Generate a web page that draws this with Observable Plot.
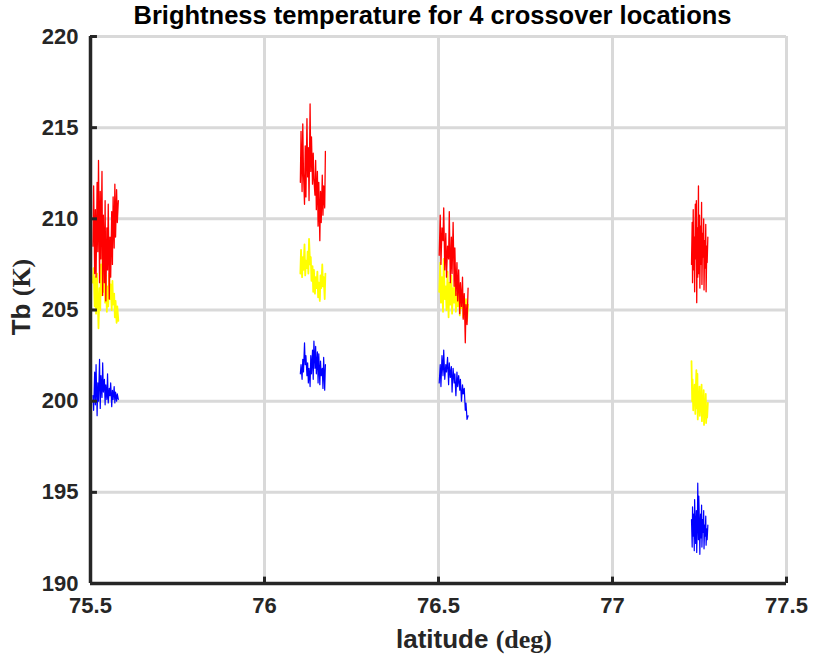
<!DOCTYPE html>
<html><head><meta charset="utf-8">
<script src="https://cdn.jsdelivr.net/npm/d3@7"></script>
<script src="https://cdn.jsdelivr.net/npm/@observablehq/plot@0.6"></script>
<style>
body{margin:0;background:#fff;}
#wrap{position:relative;width:815px;height:664px;}
#title{position:absolute;left:50px;width:765px;top:1px;text-align:center;font-family:"Liberation Sans",Arial,sans-serif;font-weight:bold;font-size:25.5px;color:#000;}
</style></head>
<body><div id="wrap"><div id="title">Brightness temperature for 4 crossover locations</div></div>
<script>
const xTicks=[75.5,76,76.5,77,77.5];
const yTicks=[190,195,200,205,210,215,220];

const lat1=[75.507,75.509,75.512,75.514,75.516,75.519,75.521,75.523,75.526,75.528,75.530,75.533,75.535,75.537,75.540,75.542,75.544,75.547,75.549,75.551,75.554,75.556,75.558,75.561,75.563,75.565,75.568,75.570,75.572,75.575,75.577,75.580];
const lat2=[76.103,76.105,76.108,76.110,76.112,76.115,76.117,76.119,76.122,76.124,76.126,76.128,76.131,76.133,76.135,76.138,76.140,76.142,76.145,76.147,76.149,76.152,76.154,76.156,76.159,76.161,76.163,76.166,76.168,76.170,76.173,76.175];
const lat3=[76.502,76.505,76.507,76.510,76.513,76.515,76.518,76.521,76.523,76.526,76.529,76.531,76.534,76.537,76.539,76.542,76.545,76.547,76.550,76.553,76.555,76.558,76.561,76.563,76.566,76.569,76.571,76.574,76.577,76.579,76.582,76.585];
const lat4=[77.227,77.229,77.230,77.232,77.233,77.235,77.236,77.238,77.239,77.241,77.242,77.244,77.245,77.247,77.248,77.250,77.251,77.253,77.254,77.256,77.257,77.259,77.260,77.262,77.263,77.265,77.266,77.268,77.269,77.271,77.272,77.274];

const red1=[208.5,211.8,207.0,210.5,206.8,212.0,208.2,213.2,206.5,211.5,207.8,212.6,205.8,210.2,206.5,211.0,205.5,209.5,207.2,210.8,205.6,209.0,206.8,210.4,207.5,211.2,208.4,211.9,209.0,211.6,209.8,211.0];
const yel1=[206.5,207.3,205.2,206.8,204.8,207.0,205.5,204.0,206.2,205.0,207.5,205.8,208.3,206.0,207.6,205.4,206.9,204.9,206.3,205.2,207.0,205.6,206.4,205.0,206.6,205.3,205.9,204.6,205.5,204.3,205.2,204.4];
const blu1=[200.3,199.5,201.6,199.8,202.0,199.2,201.0,200.0,202.3,199.6,201.4,200.2,202.1,200.5,201.2,199.8,200.9,200.1,201.5,199.9,200.7,200.3,201.0,199.7,200.6,200.1,200.8,199.9,200.5,200.0,200.4,200.1];

const red2=[212.0,214.8,211.5,215.2,212.5,210.8,214.0,211.2,215.5,212.3,213.9,211.0,216.3,212.6,214.5,211.9,213.6,212.2,211.3,213.2,210.5,212.6,209.6,212.0,208.8,211.5,209.8,212.4,210.2,211.8,210.6,213.7];
const yel2=[207.0,208.3,206.8,207.9,207.2,208.6,206.9,207.7,207.3,208.2,207.0,208.9,207.5,207.9,206.6,207.4,206.0,207.2,205.9,206.8,206.2,207.1,205.7,206.5,205.5,206.9,206.2,207.5,206.3,206.8,205.6,207.0];
const blu2=[201.5,202.0,201.2,202.3,201.6,203.2,202.0,202.5,201.4,202.1,201.0,201.8,200.8,202.5,201.5,202.8,201.2,203.3,201.8,203.0,201.5,202.7,201.0,202.6,200.9,202.2,201.4,201.8,200.7,202.4,200.6,202.0];

const red3=[208.0,210.2,207.5,209.5,208.8,210.6,207.2,209.2,206.8,208.5,207.8,210.4,206.5,209.0,207.0,209.8,206.3,208.4,205.8,207.6,205.5,207.2,204.8,206.5,205.2,206.8,204.5,205.9,203.2,205.3,204.2,206.2];
const yel3=[206.0,207.6,205.4,206.8,204.9,207.8,205.6,206.3,205.0,207.1,204.6,206.5,205.3,206.9,204.8,206.2,205.4,206.7,204.9,205.9,205.2,206.4,204.7,205.7,205.1,205.9,204.6,205.4,205.0,205.6,204.4,205.3];
const blu3=[201.0,202.0,200.8,202.5,201.4,202.8,201.2,202.0,201.6,202.4,200.9,202.1,201.3,201.9,200.5,201.8,201.0,201.5,200.3,201.6,200.8,201.4,200.6,201.2,200.0,200.9,200.4,200.7,199.5,199.9,199.0,199.2];

const red4=[207.5,209.8,206.5,210.5,207.2,209.0,206.0,210.8,207.8,211.0,205.4,209.5,206.8,211.8,207.0,210.2,206.2,209.6,207.5,210.9,206.4,209.2,207.9,210.0,206.1,208.8,207.3,209.7,206.0,208.5,207.6,209.0];
const yel4=[202.2,200.0,201.2,199.5,200.6,199.8,200.9,199.3,200.4,201.7,199.6,201.5,199.0,200.3,199.5,200.8,199.2,200.0,199.6,200.9,198.9,200.1,199.4,200.6,198.7,199.8,199.3,200.4,198.8,199.6,199.1,199.9];
const blu4=[193.5,192.0,194.2,192.6,193.8,191.8,194.6,193.0,192.2,194.0,191.7,193.4,195.5,192.4,194.8,193.0,191.6,193.8,192.5,194.3,192.0,193.5,192.8,194.0,191.9,193.2,192.6,193.7,192.1,193.0,192.4,193.2];

function seg(lat, vals, id){ return vals.map((v,i)=>({lat:lat[i], tb:v, id})); }
const yellowData=[...seg(lat1,yel1,"a"),...seg(lat2,yel2,"b"),...seg(lat3,yel3,"c"),...seg(lat4,yel4,"d")];
const blueData=[...seg(lat1,blu1,"a"),...seg(lat2,blu2,"b"),...seg(lat3,blu3,"c"),...seg(lat4,blu4,"d")];
const redData=[...seg(lat1,red1,"a"),...seg(lat2,red2,"b"),...seg(lat3,red3,"c"),...seg(lat4,red4,"d")];

const font='"Liberation Sans",Arial,sans-serif';
const chart=Plot.plot({
  width:815,height:664,marginLeft:90,marginRight:29,marginTop:36,marginBottom:81,
  x:{domain:[75.5,77.5]}, y:{domain:[190,220]},
  style:{fontFamily:font,fontWeight:"bold",fontSize:"22px",color:"#262626",background:"white"},
  marks:[
    Plot.ruleX(xTicks,{stroke:"#d9d9d9",strokeWidth:3}),
    Plot.ruleY(yTicks,{stroke:"#d9d9d9",strokeWidth:3}),
    Plot.line(yellowData,{x:"lat",y:"tb",z:"id",stroke:"#ffff00",strokeWidth:1.8}),
    Plot.line(blueData,{x:"lat",y:"tb",z:"id",stroke:"#0000ff",strokeWidth:1.2}),
    Plot.line(redData,{x:"lat",y:"tb",z:"id",stroke:"#ff0000",strokeWidth:1.3}),
    Plot.ruleY(yTicks,{x1:75.5,x2:75.52,stroke:"#262626",strokeWidth:3}),
    Plot.ruleX(xTicks,{y1:190,y2:190.35,stroke:"#262626",strokeWidth:3}),
    Plot.ruleX([75.5],{stroke:"#262626",strokeWidth:3.5}),
    Plot.ruleY([190],{stroke:"#262626",strokeWidth:3.5}),
    Plot.axisY({ticks:yTicks,tickSize:0,tickPadding:12,label:null,tickFormat:d=>String(d),fontSize:22,fill:"#262626"}),
    Plot.axisX({ticks:xTicks,tickSize:0,tickPadding:14,label:null,tickFormat:d=>String(d),fontSize:22,fill:"#262626"})
  ]
});
document.getElementById("wrap").appendChild(chart);
const svg=d3.select(chart);
const xl=svg.append("text").attr("x",474).attr("y",648).attr("text-anchor","middle").attr("fill","#262626").style("font-size","26px").style("font-weight","bold");
xl.append("tspan").style("font-family",font).text("latitude ");
xl.append("tspan").style("font-family",'"Liberation Serif","Times New Roman",serif').text("(deg)");
const yl=svg.append("text").attr("transform","translate(30,297) rotate(-90)").attr("text-anchor","middle").attr("fill","#262626").style("font-size","26px").style("font-weight","bold");
yl.append("tspan").style("font-family",font).text("Tb ");
yl.append("tspan").style("font-family",'"Liberation Serif","Times New Roman",serif').text("(K)");
</script></body></html>
